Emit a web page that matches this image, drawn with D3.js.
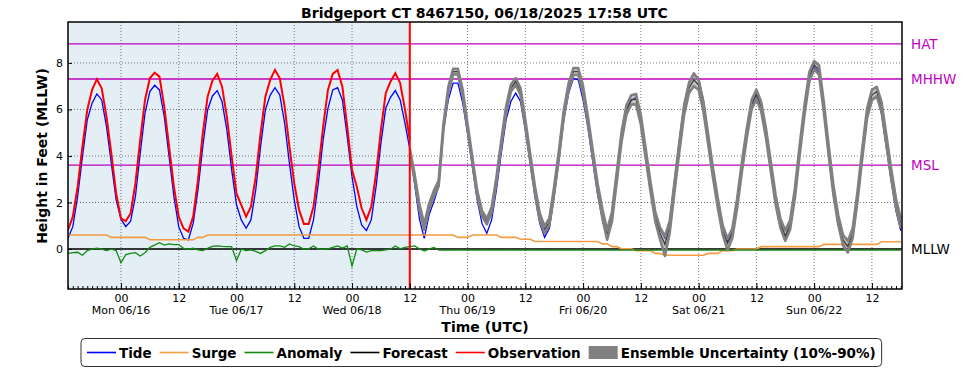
<!DOCTYPE html>
<html>
<head>
<meta charset="utf-8">
<script src="https://cdn.jsdelivr.net/npm/d3@7"></script>
<style>
  body { margin: 0; background: #fff; }
  svg { font-family: "DejaVu Sans", sans-serif; }
</style>
</head>
<body>
<div class="chart"></div>
<script>
// hourly samples, hour 0 = 06/15 13:00 UTC
const startTime = Date.UTC(2025, 5, 15, 13);
const endTime = Date.UTC(2025, 5, 22, 18, 15);
const obsEndHour = 71;

const tide = [
  0.46, 0.96, 2.25, 3.97, 5.55, 6.27, 6.67, 6.41, 5.26, 3.68, 2.11, 1.28, 0.96, 1.20, 2.25, 4.11, 5.84, 6.77,
  7.04, 6.84, 5.69, 3.97, 2.25, 0.96, 0.46, 0.39, 1.10, 2.54, 4.40, 5.98, 6.58, 6.81, 6.34, 5.12, 3.40, 1.90,
  1.25, 0.89, 1.25, 2.54, 4.40, 5.98, 6.62, 6.94, 6.62, 5.41, 3.68, 2.11, 0.96, 0.46, 0.46, 1.25, 2.82, 4.69,
  6.05, 6.84, 6.94, 6.41, 4.83, 3.11, 1.82, 1.03, 0.79, 1.25, 2.68, 4.54, 6.05, 6.52, 6.81, 6.41, 5.41, 4.30,
  2.80, 1.30, 0.46, 1.46, 2.04, 2.68, 5.12, 6.41, 7.13, 7.13, 6.27, 4.97, 3.54, 2.11, 1.10, 0.67, 1.25, 2.54,
  4.11, 5.55, 6.34, 6.70, 6.34, 5.12, 3.68, 2.25, 1.10, 0.50, 0.89, 2.25, 3.83, 5.55, 6.70, 7.34, 7.27, 6.41,
  5.23, 3.79, 2.36, 1.31, 0.38, 1.29, 3.01, 4.82, 5.97, 6.40, 6.51, 5.62, 4.18, 2.75, 1.58, 0.86, 0.47, 1.23,
  2.95, 4.67, 6.25, 7.18, 7.54, 7.32, 6.39, 4.88, 3.44, 2.15, 0.89, 0.31, 0.74, 1.96, 3.54, 4.97, 6.20, 6.65,
  6.02, 4.87, 3.44, 2.01, 1.00, 0.46, 0.93, 2.29, 4.16, 5.88, 7.31, 7.81, 7.60, 5.92, 4.06, 2.34, 1.05, 0.19,
  -0.10, 0.47, 2.05, 3.91, 5.64, 6.42, 6.57, 5.80, 4.37, 2.93, 1.64, 0.78
];

const observation = [
  0.82, 1.39, 2.68, 4.40, 5.98, 6.84, 7.30, 6.91, 5.69, 4.11, 2.39, 1.32, 1.20, 1.53, 2.82, 4.69, 6.41, 7.34,
  7.58, 7.41, 6.12, 4.40, 2.68, 1.39, 0.89, 0.75, 1.39, 2.97, 4.97, 6.55, 7.24, 7.53, 6.98, 5.69, 3.97, 2.39,
  1.89, 1.39, 1.82, 3.11, 4.97, 6.55, 7.27, 7.70, 7.34, 6.12, 4.40, 2.82, 1.68, 1.08, 1.08, 1.82, 3.40, 5.26,
  6.84, 7.53, 7.70, 6.98, 5.26, 3.40, 2.68, 1.75, 1.25, 1.82, 3.25, 5.12, 6.70, 7.20, 7.56, 7.13, 6.00, 4.70
];

// forecast + ensemble start at hour 71
const forecastStart = 71;
const forecast = [
  4.20, 3.10, 1.80, 0.95, 1.82, 2.39, 2.82, 5.26, 6.84, 7.63, 7.63, 6.70, 5.26, 3.83, 2.39, 1.53, 1.18, 1.68,
  2.97, 4.54, 5.98, 6.91, 7.20, 6.77, 5.41, 3.97, 2.54, 1.39, 0.82, 1.18, 2.54, 4.11, 5.84, 6.98, 7.63, 7.63,
  6.84, 5.55, 4.11, 2.68, 1.53, 0.60, 1.39, 3.11, 4.83, 5.98, 6.41, 6.44, 5.55, 4.11, 2.68, 1.39, 0.67, 0.20,
  0.96, 2.68, 4.40, 5.98, 6.91, 7.27, 7.05, 6.12, 4.69, 3.25, 1.96, 0.82, 0.24, 0.67, 1.96, 3.54, 4.97, 6.20,
  6.65, 6.12, 4.97, 3.54, 2.11, 1.10, 0.56, 1.03, 2.39, 4.26, 5.98, 7.41, 7.91, 7.70, 6.12, 4.26, 2.54, 1.25,
  0.39, 0.10, 0.67, 2.25, 4.11, 5.84, 6.62, 6.77, 6.12, 4.69, 3.25, 1.96, 1.10
];
const ensLow = [
  4.08, 2.98, 1.68, 0.83, 1.70, 2.27, 2.70, 5.14, 6.72, 7.51, 7.51, 6.58, 5.14, 3.71, 2.27, 1.41, 1.06, 1.56,
  2.85, 4.42, 5.83, 6.76, 7.05, 6.62, 5.26, 3.82, 2.39, 1.24, 0.67, 1.03, 2.39, 3.96, 5.69, 6.83, 7.48, 7.48,
  6.69, 5.40, 3.96, 2.53, 1.33, 0.40, 1.19, 2.91, 4.63, 5.78, 6.21, 6.22, 5.35, 3.91, 2.48, 1.19, 0.40, -0.30,
  0.70, 2.48, 4.20, 5.78, 6.71, 7.00, 6.85, 5.92, 4.49, 3.05, 1.76, 0.62, -0.05, 0.47, 1.76, 3.34, 4.77, 6.00,
  6.45, 5.92, 4.77, 3.34, 1.91, 0.90, 0.35, 0.83, 2.19, 4.06, 5.78, 7.21, 7.72, 7.50, 5.92, 4.06, 2.34, 1.05,
  0.15, -0.15, 0.47, 2.05, 3.91, 5.64, 6.40, 6.57, 5.92, 4.49, 3.05, 1.76, 0.90
];
const ensHigh = [
  4.32, 3.22, 1.92, 1.07, 1.94, 2.51, 2.94, 5.38, 6.96, 7.75, 7.75, 6.82, 5.38, 3.95, 2.51, 1.65, 1.30, 1.80,
  3.09, 4.66, 6.13, 7.06, 7.35, 6.92, 5.56, 4.12, 2.69, 1.54, 0.97, 1.33, 2.69, 4.26, 5.99, 7.13, 7.78, 7.78,
  6.99, 5.70, 4.26, 2.83, 1.73, 0.82, 1.59, 3.31, 5.03, 6.18, 6.61, 6.66, 5.75, 4.31, 2.88, 1.59, 0.92, 0.55,
  1.20, 2.88, 4.60, 6.18, 7.13, 7.55, 7.28, 6.32, 4.89, 3.45, 2.16, 1.02, 0.45, 0.88, 2.16, 3.74, 5.17, 6.40,
  6.85, 6.32, 5.17, 3.74, 2.31, 1.30, 0.80, 1.23, 2.59, 4.46, 6.18, 7.61, 8.08, 7.90, 6.32, 4.46, 2.74, 1.45,
  0.60, 0.35, 0.88, 2.45, 4.31, 6.04, 6.84, 6.97, 6.32, 4.89, 3.45, 2.16, 1.30
];

// surge as [hour, feet] break points
const surge = [
  [0, 0.6], [8, 0.6], [9, 0.5], [16, 0.5], [17, 0.4], [26, 0.4], [27, 0.5], [28, 0.5], [29, 0.6],
  [80, 0.6], [81, 0.5], [83, 0.5], [84, 0.6], [89, 0.6], [90, 0.5], [93, 0.5], [94, 0.42], [96, 0.42],
  [97, 0.32], [110, 0.32], [111, 0.22], [112, 0.22], [113, 0.1], [114, 0.1], [115, 0.01], [117, 0.01],
  [118, -0.07], [121, -0.07], [122, -0.19], [123, -0.19], [124, -0.27], [132, -0.27], [133, -0.19],
  [135, -0.19], [136, -0.07], [138, -0.07], [139, 0], [143, 0], [144, 0.1], [156, 0.1], [157, 0.2],
  [168, 0.2], [169, 0.31], [173, 0.31]
];

const anomaly = [
  -0.19, -0.16, -0.14, -0.27, -0.07, -0.01, 0.04, -0.01, -0.07, -0.01, -0.07, -0.59, -0.24, -0.19, -0.16, -0.30,
  -0.16, 0.07, 0.17, 0.27, 0.17, 0.22, 0.19, 0.19, 0.03, -0.01, 0.04, -0.04, -0.07, 0.03, 0.11, 0.13, 0.11, 0.10,
  0.10, -0.50, -0.01, -0.07, -0.04, -0.10, -0.19, -0.07, 0.07, 0.13, 0.13, 0.07, 0.22, 0.13, 0.10, -0.01, 0.01,
  0.13, -0.01, -0.01, 0.01, 0.07, 0.13, 0.04, 0.13, -0.73, 0.01, -0.04, -0.13, -0.07, -0.07, -0.07, -0.04, -0.01,
  0.13, 0.01, 0.07, 0.10, 0.13, 0.01, -0.09, -0.01, 0.07, -0.05
];
const anomalyPersist = [[77, -0.05], [173, -0.05]];

const datumNames = ["HAT", "MHHW", "MSL", "MLLW"];
const datumValues = [8.82, 7.31, 3.61, 0];
const datumColors = ["#bf00bf", "#bf00bf", "#bf00bf", "#000"];

const yTicks = [0, 2, 4, 6, 8];
const dayLabels = ["Mon 06/16", "Tue 06/17", "Wed 06/18", "Thu 06/19", "Fri 06/20", "Sat 06/21", "Sun 06/22"];

const legendNames = ["Tide", "Surge", "Anomaly", "Forecast", "Observation", "Ensemble Uncertainty (10%-90%)"];
const legendColors = ["#0000ff", "#f59b42", "#128a12", "#000", "#ff0000", "#808080"];

const W = 969, H = 370;
const margin = {top: 22, right: 67, bottom: 81, left: 68};

const svg = d3.select('.chart').append('svg')
  .attr('width', W)
  .attr('height', H);

const x = d3.scaleUtc()
  .domain([startTime, endTime])
  .range([margin.left, W - margin.right]);
const y = d3.scaleLinear()
  .domain([-1.72, 9.76])
  .range([H - margin.bottom, margin.top]);

const hr = h => new Date(startTime + h * 3600e3);
const line = d3.line().x(d => x(hr(d[0]))).y(d => y(d[1]));

svg.append('clipPath').attr('id', 'plot')
  .append('rect')
  .attr('x', margin.left).attr('y', margin.top)
  .attr('width', W - margin.left - margin.right)
  .attr('height', H - margin.top - margin.bottom);

const plot = svg.append('g').attr('clip-path', 'url(#plot)');

// observed period shading
plot.append('rect')
  .attr('x', x(hr(0)) - 2)
  .attr('y', margin.top)
  .attr('width', x(hr(obsEndHour)) - x(hr(0)) + 2)
  .attr('height', H - margin.top - margin.bottom)
  .attr('fill', '#e3eef5');

// grid
const majors = d3.utcHour.every(12).range(new Date(Date.UTC(2025, 5, 16, 0)), new Date(endTime));
plot.append('g').selectAll('line')
  .data(majors)
  .join('line')
  .attr('x1', d => x(d)).attr('x2', d => x(d))
  .attr('y1', margin.top).attr('y2', H - margin.bottom)
  .attr('stroke', '#555').attr('stroke-width', 0.8).attr('stroke-dasharray', '1,2');
plot.append('g').selectAll('line')
  .data(yTicks)
  .join('line')
  .attr('x1', margin.left).attr('x2', W - margin.right)
  .attr('y1', d => y(d)).attr('y2', d => y(d))
  .attr('stroke', '#555').attr('stroke-width', 0.8).attr('stroke-dasharray', '1,2');

// datum lines
plot.append('g').selectAll('line')
  .data(datumValues)
  .join('line')
  .attr('x1', margin.left).attr('x2', W - margin.right)
  .attr('y1', d => y(d)).attr('y2', d => y(d))
  .attr('stroke', (d, i) => datumColors[i])
  .attr('stroke-width', (d, i) => i == 3 ? 1.6 : 1.3);

const hourly = (arr, off) => arr.map((v, i) => [i + off, v]);

plot.append('path')
  .attr('d', line(hourly(tide, 0)))
  .attr('fill', 'none').attr('stroke', legendColors[0]).attr('stroke-width', 1.3);

plot.append('path')
  .attr('d', line(surge))
  .attr('fill', 'none').attr('stroke', legendColors[1]).attr('stroke-width', 1.6);

plot.append('path')
  .attr('d', line(hourly(anomaly, 0)))
  .attr('fill', 'none').attr('stroke', legendColors[2]).attr('stroke-width', 1.3);
plot.append('path')
  .attr('d', line(anomalyPersist))
  .attr('fill', 'none').attr('stroke', legendColors[2]).attr('stroke-width', 1.3);

plot.append('path')
  .attr('d', line(hourly(forecast, forecastStart)))
  .attr('fill', 'none').attr('stroke', '#000').attr('stroke-width', 1.3);

// ensemble band
const ens = ensLow.map((v, i) => ({h: i + forecastStart, lo: v, hi: ensHigh[i]}));
const area = d3.area()
  .x(d => x(hr(d.h)))
  .y0(d => y(d.lo))
  .y1(d => y(d.hi));
plot.append('path')
  .attr('d', area(ens))
  .attr('fill', '#808080').attr('fill-opacity', 0.45);
plot.append('path')
  .attr('d', line(ens.map(d => [d.h, d.lo])))
  .attr('fill', 'none').attr('stroke', '#808080').attr('stroke-width', 2.6).attr('stroke-linejoin', 'round');
plot.append('path')
  .attr('d', line(ens.map(d => [d.h, d.hi])))
  .attr('fill', 'none').attr('stroke', '#808080').attr('stroke-width', 2.6).attr('stroke-linejoin', 'round');

plot.append('path')
  .attr('d', line(hourly(observation, 0)))
  .attr('fill', 'none').attr('stroke', legendColors[4]).attr('stroke-width', 2);

// now line
plot.append('line')
  .attr('x1', x(hr(obsEndHour))).attr('x2', x(hr(obsEndHour)))
  .attr('y1', margin.top).attr('y2', H - margin.bottom)
  .attr('stroke', '#ff0000').attr('stroke-width', 2);

// axes
const xAxis = d3.axisBottom(x)
  .tickValues(majors)
  .tickFormat(d3.utcFormat('%H'))
  .tickSize(-6)
  .tickPadding(5);
const gx = svg.append('g')
  .attr('transform', `translate(0, ${H - margin.bottom})`)
  .call(xAxis);
gx.select('.domain').remove();
gx.selectAll('text').attr('font-size', 11).attr('font-family', '"DejaVu Sans"');

const minorAxis = d3.axisBottom(x)
  .tickValues(d3.utcHour.range(hr(0), new Date(endTime)))
  .tickFormat('')
  .tickSize(-3);
const gm = svg.append('g')
  .attr('transform', `translate(0, ${H - margin.bottom})`)
  .call(minorAxis);
gm.select('.domain').remove();

svg.append('g').selectAll('text')
  .data(majors.filter(d => d.getUTCHours() == 0))
  .join('text')
  .attr('x', d => x(d))
  .attr('y', H - margin.bottom + 25)
  .attr('text-anchor', 'middle')
  .attr('font-size', 11)
  .text((d, i) => dayLabels[i]);

const yAxis = d3.axisLeft(y)
  .tickValues(yTicks)
  .tickSize(-4)
  .tickPadding(5);
const gy = svg.append('g')
  .attr('transform', `translate(${margin.left}, 0)`)
  .call(yAxis);
gy.select('.domain').remove();
gy.selectAll('text').attr('font-size', 11).attr('font-family', '"DejaVu Sans"');

// frame
svg.append('rect')
  .attr('x', margin.left).attr('y', margin.top)
  .attr('width', W - margin.left - margin.right)
  .attr('height', H - margin.top - margin.bottom)
  .attr('fill', 'none').attr('stroke', '#000').attr('stroke-width', 1.5);

// datum labels
svg.append('g').selectAll('text')
  .data(datumValues)
  .join('text')
  .attr('x', W - margin.right + 9)
  .attr('y', d => y(d) + 5)
  .attr('font-size', 13.5)
  .attr('fill', (d, i) => datumColors[i])
  .text((d, i) => datumNames[i]);

// titles
svg.append('text')
  .attr('x', 484.5).attr('y', 17.5)
  .attr('text-anchor', 'middle')
  .attr('font-size', 14).attr('font-weight', 'bold')
  .text('Bridgeport CT 8467150, 06/18/2025 17:58 UTC');

svg.append('text')
  .attr('x', 485).attr('y', 332)
  .attr('text-anchor', 'middle')
  .attr('font-size', 14).attr('font-weight', 'bold')
  .text('Time (UTC)');

svg.append('text')
  .attr('transform', 'translate(47, 156) rotate(-90)')
  .attr('text-anchor', 'middle')
  .attr('font-size', 14).attr('font-weight', 'bold')
  .text('Height in Feet (MLLW)');

// legend
const legend = svg.append('g');
const box = legend.append('rect')
  .attr('rx', 4).attr('ry', 4)
  .attr('fill', '#fff').attr('stroke', '#333').attr('stroke-width', 1);
let lx = 87;
const ly = 352.5;
legendNames.forEach((name, i) => {
  if (i == 5) {
    legend.append('rect')
      .attr('x', lx).attr('y', ly - 6.5)
      .attr('width', 29).attr('height', 13)
      .attr('fill', legendColors[i]);
  } else {
    legend.append('line')
      .attr('x1', lx).attr('x2', lx + 29)
      .attr('y1', ly).attr('y2', ly)
      .attr('stroke', legendColors[i]).attr('stroke-width', 1.6);
  }
  const t = legend.append('text')
    .attr('x', lx + 32).attr('y', ly + 5)
    .attr('font-size', 13.5).attr('font-weight', 'bold')
    .text(name);
  lx += 32 + t.node().getComputedTextLength() + 8;
});
box.attr('x', 81).attr('y', 338.5).attr('width', lx - 8 + 6 - 81).attr('height', 28);
</script>
</body>
</html>
